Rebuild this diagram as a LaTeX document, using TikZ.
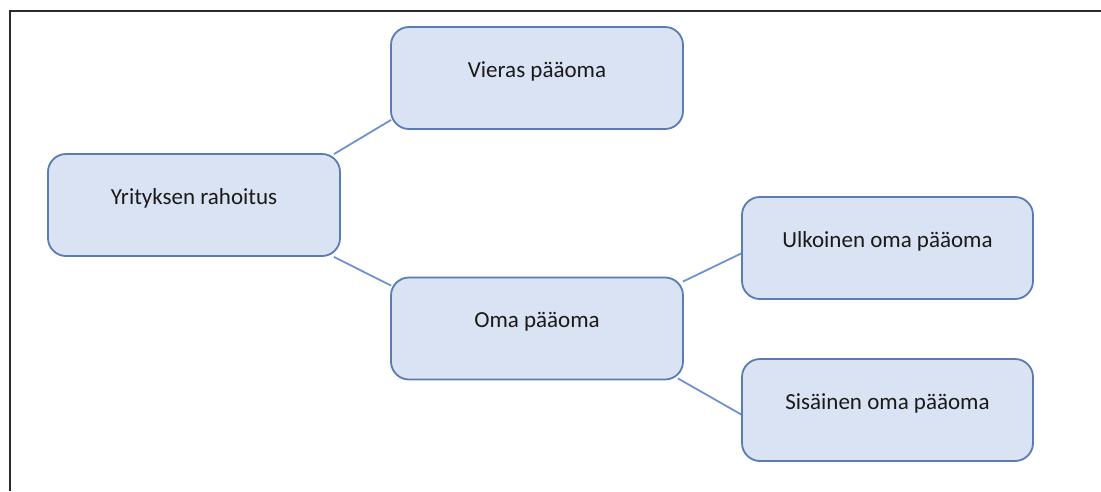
\documentclass[tikz,border=0pt]{standalone}
\usepackage{fontspec}
\setmainfont{Carlito}
\usetikzlibrary{calc,backgrounds}
\definecolor{boxfill}{HTML}{DAE3F3}
\definecolor{boxline}{HTML}{5B7BB3}
\definecolor{linkline}{HTML}{6E92D0}
\definecolor{frameline}{HTML}{2A2A2A}
\definecolor{labeltext}{HTML}{1A1A1A}
\tikzset{
  termbox/.style={draw=boxline, line width=1.8pt, fill=boxfill, rounded corners=18pt,
    minimum width=292pt, minimum height=102pt, inner sep=0pt,
    text height=15pt, text depth=17pt, text=labeltext,
    font=\fontsize{23}{28}\selectfont},
  link/.style={draw=linkline, line width=1.8pt},
}
\begin{document}
\begin{tikzpicture}[x=1pt,y=-1pt]
  \useasboundingbox (0,0) rectangle (1101,491);
  % outer frame (top and left edges)
  \draw[frameline, line width=2.5pt] (10,491) -- (10,11) -- (1101,11);

  \node[termbox] (yr)  at (194,205)   {Yrityksen rahoitus};
  \node[termbox] (vi)  at (537,78)    {Vieras pääoma};
  \node[termbox] (oma) at (537,328.5) {Oma pääoma};
  \node[termbox, minimum width=291pt] (ulk) at (887.5,248) {Ulkoinen oma pääoma};
  \node[termbox, minimum width=291pt] (sis) at (887.5,410) {Sisäinen oma pääoma};

  \begin{scope}[on background layer]
    \draw[link] ($(yr.north east)+(-7,1)$) -- ($(vi.south west)+(1,-10)$);
    \draw[link] ($(yr.south east)+(-7,0)$) -- ($(oma.north west)+(1,9)$);
    \draw[link] ($(oma.north east)+(-1,5)$) -- ($(ulk.west)+(1,5)$);
    \draw[link] ($(oma.south east)+(-6,-2)$) -- ($(sis.west)+(1,5)$);
  \end{scope}
\end{tikzpicture}
\end{document}
